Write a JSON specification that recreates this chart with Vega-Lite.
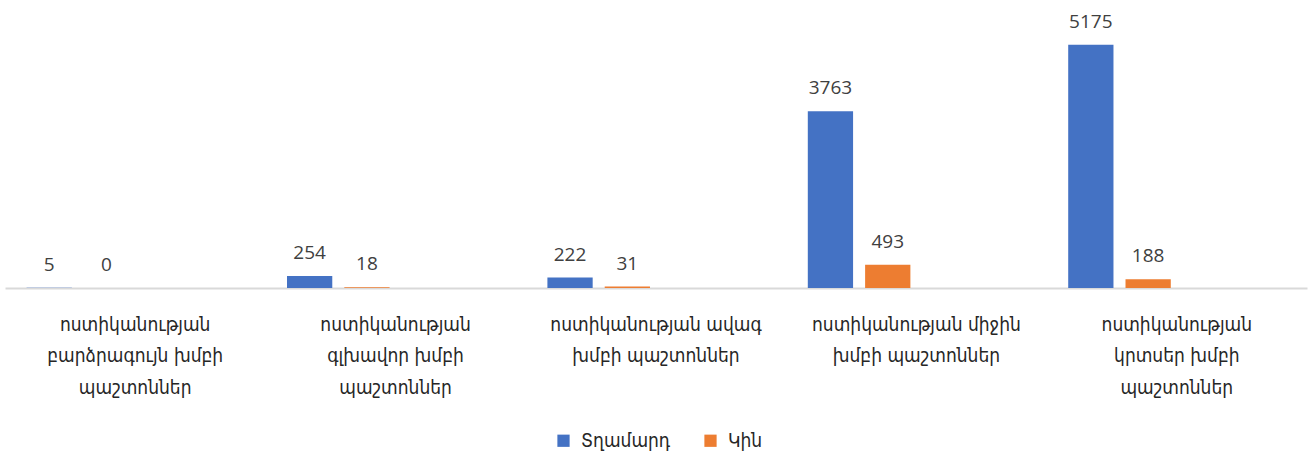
{
  "$schema": "https://vega.github.io/schema/vega-lite/v6.json",
  "width": 1302,
  "height": 282,
  "padding": {"left": 5, "top": 6, "right": 5, "bottom": 5},
  "background": "white",
  "data": {
    "values": [
      {"category": "ոստիկանության բարձրագույն խմբի պաշտոններ", "sex": "Տղամարդ", "count": 5},
      {"category": "ոստիկանության բարձրագույն խմբի պաշտոններ", "sex": "Կին", "count": 0},
      {"category": "ոստիկանության գլխավոր խմբի պաշտոններ", "sex": "Տղամարդ", "count": 254},
      {"category": "ոստիկանության գլխավոր խմբի պաշտոններ", "sex": "Կին", "count": 18},
      {"category": "ոստիկանության ավագ խմբի պաշտոններ", "sex": "Տղամարդ", "count": 222},
      {"category": "ոստիկանության ավագ խմբի պաշտոններ", "sex": "Կին", "count": 31},
      {"category": "ոստիկանության միջին խմբի պաշտոններ", "sex": "Տղամարդ", "count": 3763},
      {"category": "ոստիկանության միջին խմբի պաշտոններ", "sex": "Կին", "count": 493},
      {"category": "ոստիկանության կրտսեր խմբի պաշտոններ", "sex": "Տղամարդ", "count": 5175},
      {"category": "ոստիկանության կրտսեր խմբի պաշտոններ", "sex": "Կին", "count": 188}
    ]
  },
  "encoding": {
    "x": {
      "field": "category",
      "type": "nominal",
      "sort": null,
      "scale": {"paddingInner": 0, "paddingOuter": 0},
      "axis": {
        "title": null,
        "labelAngle": 0,
        "ticks": false,
        "domainColor": "#D9D9D9",
        "domainWidth": 2,
        "labelFont": "DejaVu Sans Condensed",
        "labelFontSize": 19,
        "labelColor": "#262626",
        "labelLineHeight": 31.5,
        "labelPadding": 27,
        "labelBaseline": "top",
        "labelLimit": 0,
        "labelExpr": "(indexof(datum.label, 'ավագ') >= 0 || indexof(datum.label, 'միջին') >= 0) ? [split(datum.label, ' ')[0] + ' ' + split(datum.label, ' ')[1], split(datum.label, ' ')[2] + ' ' + split(datum.label, ' ')[3]] : [split(datum.label, ' ')[0], split(datum.label, ' ')[1] + ' ' + split(datum.label, ' ')[2], split(datum.label, ' ')[3]]"
      }
    },
    "xOffset": {
      "field": "sex",
      "type": "nominal",
      "scale": {"domain": ["Տղամարդ", "Կին", "s3", "s4"], "paddingInner": 0.21, "paddingOuter": 0.377}
    },
    "y": {
      "field": "count",
      "type": "quantitative",
      "scale": {"domain": [0, 6000]},
      "axis": null
    }
  },
  "layer": [
    {
      "mark": {"type": "bar"},
      "encoding": {
        "color": {
          "field": "sex",
          "type": "nominal",
          "scale": {"domain": ["Տղամարդ", "Կին"], "range": ["#4472C4", "#ED7D31"]},
          "legend": {
            "title": null,
            "orient": "none",
            "direction": "horizontal",
            "legendX": 549,
            "legendY": 425,
            "symbolType": "square",
            "symbolSize": 150,
            "symbolStrokeWidth": 0,
            "labelFont": "DejaVu Sans Condensed",
            "labelFontSize": 19,
            "labelColor": "#262626",
            "columnPadding": 30,
            "labelOffset": 8
          }
        }
      }
    },
    {
      "mark": {"type": "text", "baseline": "alphabetic", "dy": -17, "fontSize": 19, "font": "Open Sans", "color": "#404040"},
      "encoding": {
        "text": {"field": "count", "type": "quantitative"}
      }
    }
  ],
  "config": {"view": {"stroke": null}}
}
